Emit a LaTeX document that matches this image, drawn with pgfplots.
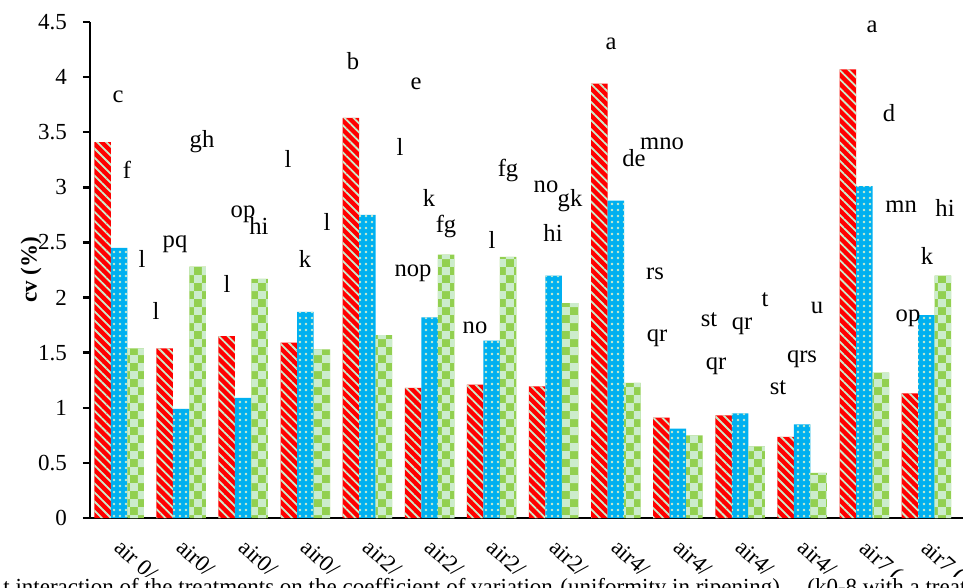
\documentclass[border=0pt]{standalone}
\usepackage{fontspec}
\setmainfont{Liberation Serif}
\usepackage{pgfplots}
\pgfplotsset{compat=1.18}
\usetikzlibrary{patterns,patterns.meta}

\definecolor{cred}{RGB}{255,0,0}
\definecolor{cblue}{RGB}{0,176,240}
\definecolor{cgreen}{RGB}{146,208,80}
\definecolor{clight}{RGB}{204,236,204}

\pgfdeclarepatternformonly{checker}{\pgfqpoint{0pt}{0pt}}{\pgfqpoint{8.2pt}{8.2pt}}{\pgfqpoint{8.2pt}{8.2pt}}{%
 \pgfpathrectangle{\pgfqpoint{0pt}{0pt}}{\pgfqpoint{4.1pt}{4.1pt}}%
 \pgfpathrectangle{\pgfqpoint{4.1pt}{4.1pt}}{\pgfqpoint{4.1pt}{4.1pt}}%
 \pgfusepath{fill}}

\pgfplotstableread{
x red blue green
0 3.41 2.45 1.54
1 1.54 0.99 2.28
2 1.65 1.09 2.17
3 1.59 1.87 1.53
4 3.63 2.75 1.66
5 1.18 1.82 2.39
6 1.21 1.61 2.37
7 1.195 2.20 1.95
8 3.94 2.88 1.225
9 0.91 0.81 0.75
10 0.93 0.95 0.65
11 0.735 0.85 0.41
12 4.07 3.01 1.32
13 1.13 1.84 2.20
}\datatable

\begin{document}
\begin{tikzpicture}
\begin{axis}[
  scale only axis, width=436.5pt, height=248pt,
  ymin=0, ymax=4.5, xmin=-0.467, xmax=13.59,
  ybar=0pt, bar width=8.25pt,
  axis x line*=bottom, axis y line*=left,
  axis line style={-, line width=1.3pt},
  ytick={0,0.5,1,1.5,2,2.5,3,3.5,4,4.5},
  yticklabels={0,0.5,1,1.5,2,2.5,3,3.5,4,4.5},
  tick align=outside, major tick length=3.5pt,
  y tick style={line width=1.2pt, black},
  xtick={0,...,13},
  xticklabels={air 0/,air0/,air0/,air0/,air2/,air2/,air2/,air2/,air4/,air4/,air4/,air4/,air7 (,air7 (},
  x tick style={draw=none},
  /pgf/number format/assume math mode=true,
  tick label style={font=\fontsize{11.5}{13}\selectfont},
  yticklabel style={xshift=-4.5pt},
  xticklabel style={xshift=2pt, yshift=-1.6pt, rotate=-42, anchor=north west},
  ylabel={\textbf{cv (\%)}},
  ylabel style={at={(axis description cs:-0.0676,0.5)}, rotate=0, anchor=center, font=\fontsize{11.5}{13}\selectfont},
  clip=false,
]
\addplot[draw=none, fill=cred, postaction={pattern={Lines[angle=-45,distance=3.2pt,line width=0.9pt]}, pattern color=clight}] table[x=x,y=red]{\datatable};
\addplot[draw=none, fill=cblue, postaction={pattern={Dots[distance=3pt,radius=0.7pt]}, pattern color=clight}] table[x=x,y=blue]{\datatable};
\addplot[draw=none, fill=cgreen, postaction={pattern=checker, pattern color=clight}] table[x=x,y=green]{\datatable};

\coordinate (O) at (rel axis cs:0,0);
\coordinate (T) at (rel axis cs:1,1);

\begin{scope}[every node/.style={anchor=base, inner sep=0pt, font=\fontsize{12.3}{14}\selectfont}]
\node at (axis cs:-0.016,3.766) {c};
\node at (axis cs:0.129,3.076) {f};
\node at (axis cs:0.370,2.269) {l};
\node at (axis cs:0.902,2.450) {pq};
\node at (axis cs:0.596,1.797) {l};
\node at (axis cs:1.337,3.358) {gh};
\node at (axis cs:1.997,2.722) {op};
\node at (axis cs:2.254,2.568) {hi};
\node at (axis cs:1.739,2.042) {l};
\node at (axis cs:2.721,3.176) {l};
\node at (axis cs:3.349,2.604) {l};
\node at (axis cs:2.995,2.269) {k};
\node at (axis cs:3.768,4.065) {b};
\node at (axis cs:4.783,3.884) {e};
\node at (axis cs:4.525,3.285) {l};
\node at (axis cs:4.992,2.822) {k};
\node at (axis cs:4.734,2.187) {nop};
\node at (axis cs:5.266,2.586) {fg};
\node at (axis cs:5.733,1.670) {no};
\node at (axis cs:6.006,2.441) {l};
\node at (axis cs:6.264,3.094) {fg};
\node at (axis cs:6.876,2.949) {no};
\node at (axis cs:7.262,2.822) {gk};
\node at (axis cs:6.989,2.505) {hi};
\node at (axis cs:7.923,4.247) {a};
\node at (axis cs:8.293,3.185) {de};
\node at (axis cs:8.744,3.339) {mno};
\node at (axis cs:8.631,2.160) {rs};
\node at (axis cs:8.663,1.597) {qr};
\node at (axis cs:9.501,1.733) {st};
\node at (axis cs:10.032,1.706) {qr};
\node at (axis cs:10.403,1.915) {t};
\node at (axis cs:9.614,1.343) {qr};
\node at (axis cs:10.612,1.125) {st};
\node at (axis cs:11.240,1.851) {u};
\node at (axis cs:10.998,1.407) {qrs};
\node at (axis cs:12.126,4.401) {a};
\node at (axis cs:12.399,3.593) {d};
\node at (axis cs:12.593,2.768) {mn};
\node at (axis cs:13.301,2.731) {hi};
\node at (axis cs:13.011,2.296) {k};
\node at (axis cs:12.705,1.779) {op};
\end{scope}
\end{axis}
\fill[white] ([xshift=-45pt, yshift=-29.5pt]O) rectangle ([yshift=-45pt]O -| T);
\begin{scope}[every node/.style={anchor=base west, inner sep=0pt, font=\fontsize{11.5}{13}\selectfont}]
\node at ([xshift=-43.5pt, yshift=-38pt]O) {t interaction of the treatments on the coefficient of variation};
\node at ([xshift=235pt, yshift=-38pt]O) {(uniformity in ripening)};
\node at ([xshift=358.5pt, yshift=-38pt]O) {(k0-8 with a treat};
\end{scope}
\pgfresetboundingbox
\path[use as bounding box] ([xshift=-45pt, yshift=-35pt]O) rectangle ([yshift=11pt]T);
\end{tikzpicture}
\end{document}
